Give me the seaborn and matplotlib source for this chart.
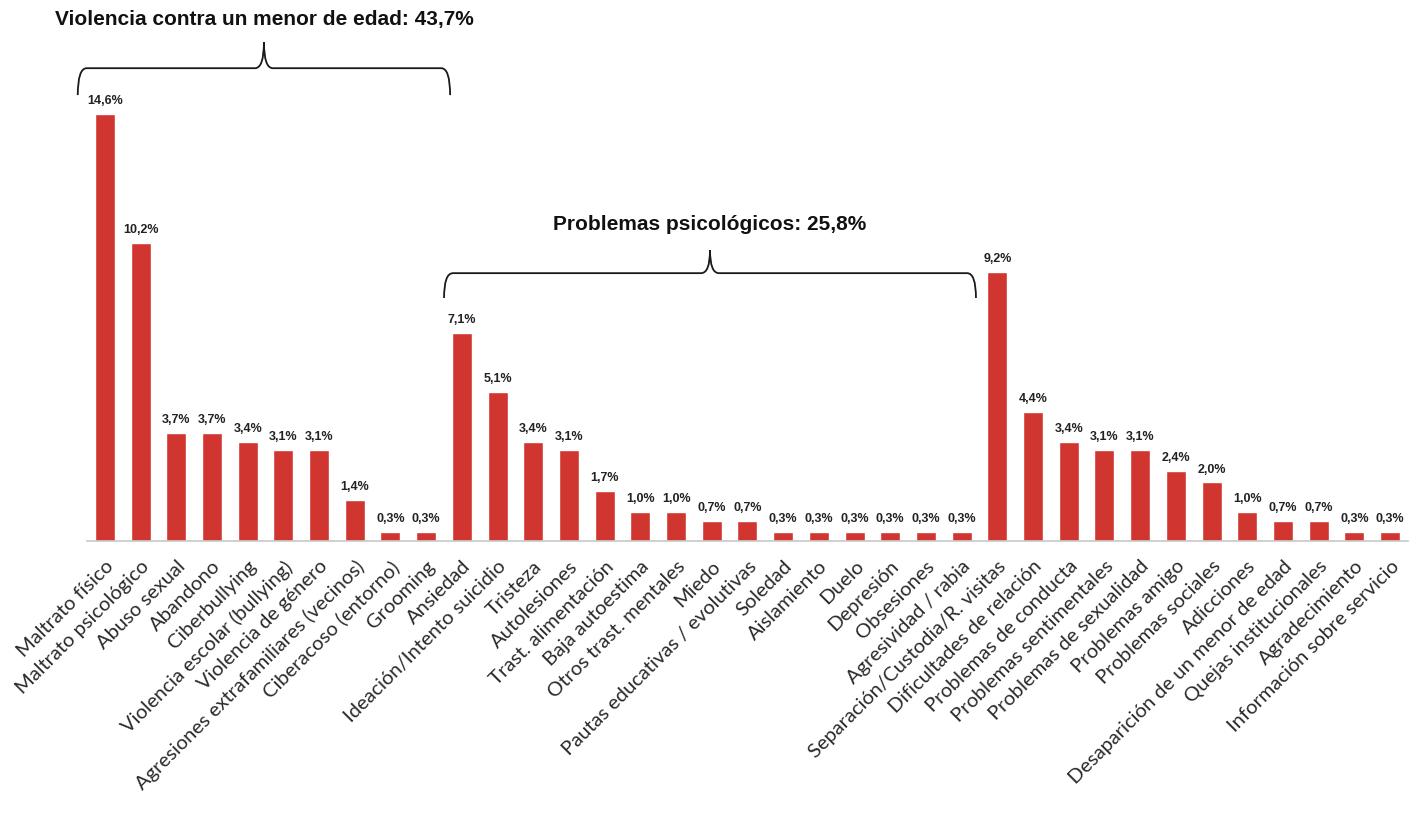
import numpy as np
import pandas as pd
import matplotlib
matplotlib.use("Agg")
import matplotlib.pyplot as plt
from matplotlib.path import Path
from matplotlib.patches import PathPatch
from matplotlib.ticker import FixedLocator
import seaborn as sns

# ----------------------------------------
# Data
# ----------------------------------------

categorias = [
    "Maltrato físico", "Maltrato psicológico", "Abuso sexual", "Abandono",
    "Ciberbullying", "Violencia escolar (bullying)", "Violencia de género",
    "Agresiones extrafamiliares (vecinos)", "Ciberacoso (entorno)", "Grooming",
    "Ansiedad", "Ideación/Intento suicidio", "Tristeza", "Autolesiones",
    "Trast. alimentación", "Baja autoestima", "Otros trast. mentales", "Miedo",
    "Pautas educativas / evolutivas", "Soledad", "Aislamiento", "Duelo",
    "Depresión", "Obsesiones", "Agresividad / rabia",
    "Separación/Custodia/R. visitas", "Dificultades de relación",
    "Problemas de conducta", "Problemas sentimentales",
    "Problemas de sexualidad", "Problemas amigo", "Problemas sociales",
    "Adicciones", "Desaparición de un menor de edad", "Quejas institucionales",
    "Agradecimiento", "Información sobre servicio",
]
porcentajes = [
    14.6, 10.2, 3.7, 3.7, 3.4, 3.1, 3.1, 1.4, 0.3, 0.3,
    7.1, 5.1, 3.4, 3.1, 1.7, 1.0, 1.0, 0.7, 0.7, 0.3, 0.3, 0.3, 0.3, 0.3, 0.3,
    9.2, 4.4, 3.4, 3.1, 3.1, 2.4, 2.0, 1.0, 0.7, 0.7, 0.3, 0.3,
]

# group brackets: (title, first index, last index)
grupo_titulos = ["Violencia contra un menor de edad: 43,7%", "Problemas psicológicos: 25,8%"]
grupo_inicio = [0, 10]
grupo_fin = [9, 24]

df = pd.DataFrame({"categoria": categorias, "pct": porcentajes})

# ----------------------------------------
# Plot
# ----------------------------------------

sns.set_style("white")
plt.rcParams["font.family"] = ["Liberation Sans", "DejaVu Sans"]

fig = plt.figure(figsize=(14.2, 8.13), dpi=100)
ax = fig.add_axes([0.0613, 0.3346, 0.9302, 0.5754])

sns.barplot(data=df, x="categoria", y="pct", color="#d0352f", saturation=1,
            width=0.56, ax=ax)

ax.set_ylim(0, 16)
ax.set_xlim(-0.5, len(categorias) - 0.5)
ax.set_xlabel("")
ax.set_ylabel("")
ax.set_yticks([])
for side in ["top", "right", "left"]:
    ax.spines[side].set_visible(False)
ax.spines["bottom"].set_color("#c8c8c8")
ax.spines["bottom"].set_linewidth(1.2)

# value labels on bars
etiquetas = [f"{v:.1f}%".replace(".", ",") for v in porcentajes]
ax.bar_label(ax.containers[0], labels=etiquetas, padding=5,
             fontsize=9, fontweight="bold", color="#222222")

# tick labels at centers, tick marks at boundaries
ax.set_xticks(range(len(categorias)))
ax.set_xticklabels(categorias, rotation=45, ha="right", rotation_mode="anchor",
                   fontsize=14.5, color="#2a2a2a", family=["Lato", "DejaVu Sans"])
ax.tick_params(axis="x", which="major", length=0, pad=12)
ax.xaxis.set_minor_locator(FixedLocator(np.arange(-0.5, len(categorias), 1.0)))
ax.tick_params(axis="x", which="minor", length=6, width=1, color="#c8c8c8",
               direction="out")

# ----------------------------------------
# Curly brackets with group titles
# ----------------------------------------

def llave(ax, x0, x1, y_linea, y_punta, y_pie, r=0.25):
    xm = (x0 + x1) / 2
    verts = [
        (x0, y_pie), (x0, y_linea), (x0 + r, y_linea),
        (xm - r, y_linea), (xm, y_linea), (xm, y_punta),
        (xm, y_linea), (xm + r, y_linea),
        (x1 - r, y_linea), (x1, y_linea), (x1, y_pie),
    ]
    codes = [
        Path.MOVETO, Path.CURVE3, Path.CURVE3,
        Path.LINETO, Path.CURVE3, Path.CURVE3,
        Path.CURVE3, Path.CURVE3,
        Path.LINETO, Path.CURVE3, Path.CURVE3,
    ]
    patch = PathPatch(Path(verts, codes), fill=False, edgecolor="#1a1a1a",
                      linewidth=1.3, clip_on=False)
    ax.add_patch(patch)

# (left offset, right offset, line y, tip y, foot y, text y)
layout = [(-0.76, 0.67, 16.17, 17.06, 15.25, 17.5),
          (-0.5, 0.4, 9.16, 9.95, 8.31, 10.5)]
for titulo, i0, i1, (dl, dr, yl, yp, yf, yt) in zip(grupo_titulos, grupo_inicio, grupo_fin, layout):
    x0 = i0 + dl
    x1 = i1 + dr
    llave(ax, x0, x1, yl, yp, yf)
    ax.text((x0 + x1) / 2, yt, titulo, ha="center", va="bottom",
            fontsize=15, fontweight="bold", color="#111111", clip_on=False)

fig.savefig("out.png", dpi=100)
plt.close(fig)
